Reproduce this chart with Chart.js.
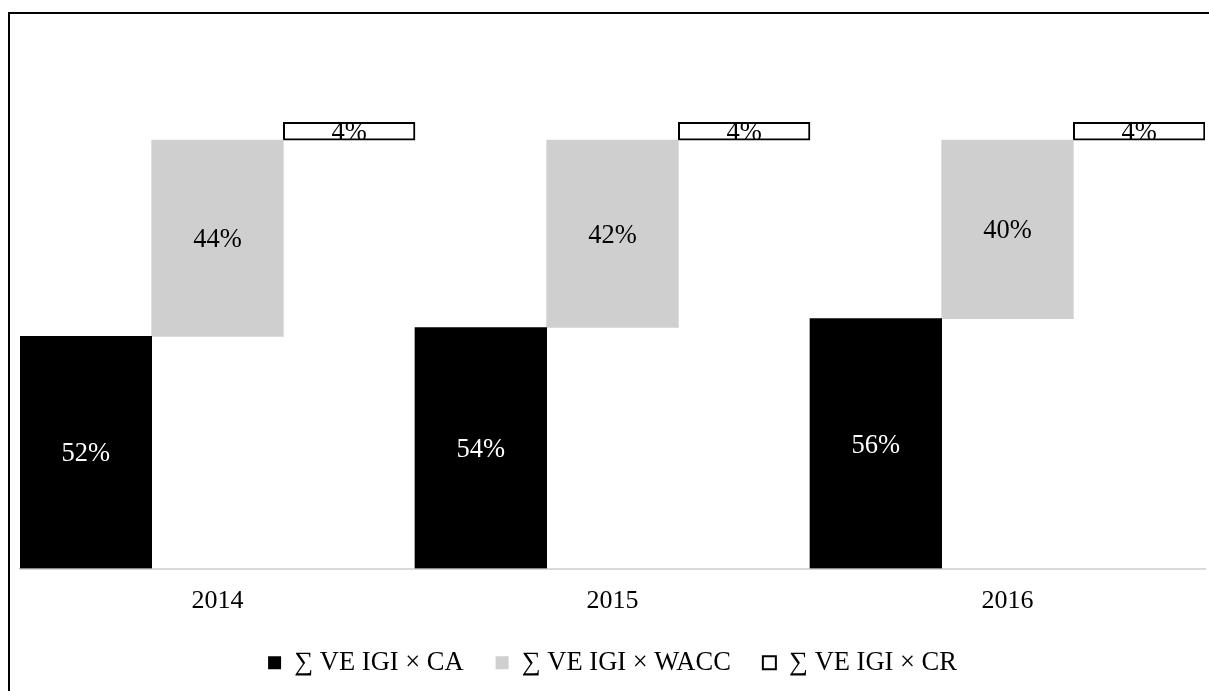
<!DOCTYPE html>
<html>
<head>
<meta charset="utf-8">
<script src="https://cdn.jsdelivr.net/npm/chart.js@4.4.1/dist/chart.umd.min.js"></script>
<style>
  html, body { margin: 0; padding: 0; background: #fff; overflow: hidden; }
  #frame { position: absolute; left: 8px; top: 12px; width: 1400px; height: 900px;
           border-left: 2px solid #000; border-top: 2px solid #000; }
  #c { position: absolute; left: 0; top: 0; }
</style>
</head>
<body>
<div id="frame"></div>
<canvas id="c" width="1209" height="691"></canvas>
<script>
const years = ['2014', '2015', '2016'];
const caShare = [52, 54, 56];
const waccShare = [44, 42, 40];
const crShare = [4, 4, 4];
const seriesNames = ['\u2211 VE IGI \u00d7 CA', '\u2211 VE IGI \u00d7 WACC', '\u2211 VE IGI \u00d7 CR'];

const caRange = caShare.map(v => [0, v]);
const waccRange = waccShare.map((v, i) => [caShare[i], caShare[i] + v]);
const crRange = crShare.map((v, i) => [caShare[i] + waccShare[i], caShare[i] + waccShare[i] + v]);
const rawValues = [caShare, waccShare, crShare];
const labelColors = ['#ffffff', '#000000', '#000000'];

const FONT = '"Liberation Serif", "Times New Roman", serif';

const labelPlugin = {
  id: 'barLabels',
  afterDatasetsDraw(chart) {
    const ctx = chart.ctx;
    ctx.save();
    ctx.font = '26.5px ' + FONT;
    ctx.textAlign = 'center';
    ctx.textBaseline = 'middle';
    chart.data.datasets.forEach((ds, di) => {
      const meta = chart.getDatasetMeta(di);
      meta.data.forEach((bar, i) => {
        const p = bar.getProps(['x', 'y', 'base'], true);
        const cy = (p.y + p.base) / 2 + 2;
        ctx.fillStyle = labelColors[di];
        ctx.fillText(rawValues[di][i] + '%', p.x, cy);
      });
    });
    ctx.restore();
  }
};

new Chart(document.getElementById('c'), {
  type: 'bar',
  data: {
    labels: years,
    datasets: [
      { label: seriesNames[0], data: caRange, backgroundColor: '#000000', borderWidth: 0 },
      { label: seriesNames[1], data: waccRange, backgroundColor: '#d0cfd0', borderWidth: 0 },
      { label: seriesNames[2], data: crRange, backgroundColor: '#ffffff', borderColor: '#000000', borderWidth: 2, borderSkipped: false }
    ]
  },
  options: {
    responsive: false,
    animation: false,
    devicePixelRatio: 1,
    categoryPercentage: 1.0,
    barPercentage: 1.0,
    layout: { padding: { left: 20, right: 4, top: 33, bottom: 5 } },
    scales: {
      x: {
        grid: { display: false },
        border: { display: true, color: '#d9d9d9', width: 2 },
        ticks: { color: '#000', font: { family: FONT, size: 26 }, padding: 9 },
        afterFit(scale) { scale.height = 49; }
      },
      y: {
        display: false,
        min: 0,
        max: 120
      }
    },
    plugins: {
      tooltip: { enabled: false },
      legend: {
        position: 'bottom',
        labels: {
          color: '#000',
          font: { family: FONT, size: 26.5 },
          boxWidth: 13,
          boxHeight: 13,
          padding: 32
        }
      }
    }
  },
  plugins: [labelPlugin]
});
</script>
</body>
</html>
